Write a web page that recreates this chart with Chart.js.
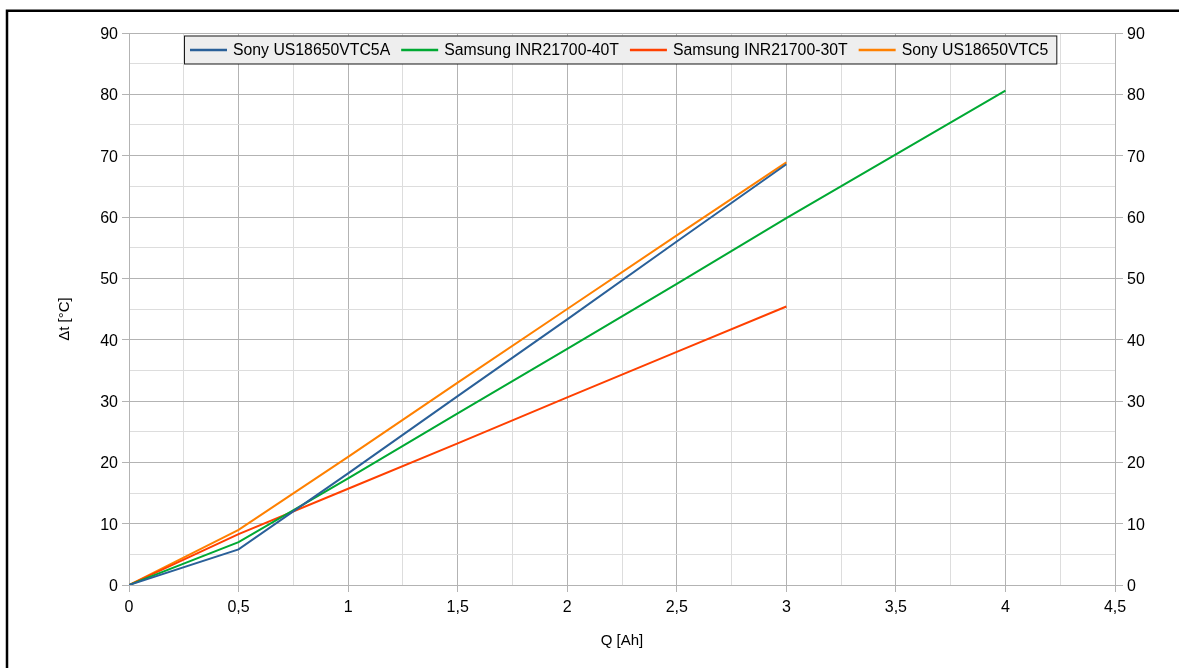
<!DOCTYPE html>
<html>
<head>
<meta charset="utf-8">
<script src="https://cdn.jsdelivr.net/npm/chart.js@4.4.1/dist/chart.umd.min.js"></script>
<style>
  html, body { margin: 0; padding: 0; background: #fff; }
  #wrap { position: relative; width: 1179px; height: 668px; }
</style>
</head>
<body>
<div id="wrap"><canvas id="c" width="1179" height="668"></canvas></div>
<script>
// ---- data ----
const qShort = [0, 0.5, 1, 1.5, 2, 2.5, 3];
const qLong = [0, 0.5, 1, 1.5, 2, 2.5, 3, 3.5, 4];
const sonyVTC5A = [0, 5.8, 18.2, 30.8, 43.3, 56.0, 68.6];
const samsung40T = [0, 7.0, 17.4, 28.0, 38.5, 49.1, 59.8, 70.2, 80.6];
const samsung30T = [0, 8.3, 15.7, 23.1, 30.6, 38.0, 45.4];
const sonyVTC5 = [0, 9.0, 20.9, 33.0, 45.0, 57.0, 68.9];
const seriesNames = ['Sony US18650VTC5A', 'Samsung INR21700-40T', 'Samsung INR21700-30T', 'Sony US18650VTC5'];
const seriesColors = ['#2a6099', '#00a933', '#ff4000', '#ff8000'];
const xTitle = 'Q [Ah]';
const yTitle = 'Δt [°C]';

const FONT = '"Liberation Sans", Arial, sans-serif';
const MAJOR = '#b3b3b3', MINOR = '#dddddd';

function pts(xs, ys) { return xs.map((x, i) => ({ x: x, y: ys[i] })); }

const datasets = [
  { label: seriesNames[0], data: pts(qShort, sonyVTC5A), borderColor: seriesColors[0] },
  { label: seriesNames[1], data: pts(qLong, samsung40T), borderColor: seriesColors[1] },
  { label: seriesNames[2], data: pts(qShort, samsung30T), borderColor: seriesColors[2] },
  { label: seriesNames[3], data: pts(qShort, sonyVTC5), borderColor: seriesColors[3] }
].map(d => Object.assign(d, { borderWidth: 2, pointRadius: 0, tension: 0, fill: false }));

const framePlugin = {
  id: 'frame',
  beforeDraw(chart) {
    const ctx = chart.ctx;
    ctx.save();
    ctx.fillStyle = '#fff';
    ctx.fillRect(0, 0, chart.width, chart.height);
    ctx.strokeStyle = '#000';
    ctx.lineWidth = 2.5;
    ctx.beginPath();
    ctx.moveTo(7, chart.height + 5);
    ctx.lineTo(7, 10.8);
    ctx.lineTo(chart.width + 5, 10.8);
    ctx.stroke();
    ctx.restore();
  }
};

const titlesPlugin = {
  id: 'titles',
  afterDraw(chart) {
    const ctx = chart.ctx;
    const a = chart.chartArea;
    ctx.save();
    ctx.fillStyle = '#000';
    ctx.font = '15px ' + FONT;
    ctx.textAlign = 'center';
    ctx.textBaseline = 'middle';
    ctx.fillText(xTitle, (a.left + a.right) / 2, 641);
    ctx.translate(65, 319);
    ctx.rotate(-Math.PI / 2);
    ctx.fillText(yTitle, 0, 0);
    ctx.restore();
  }
};

const legendPlugin = {
  id: 'boxLegend',
  afterDraw(chart) {
    const ctx = chart.ctx;
    ctx.save();
    ctx.font = '15.8px ' + FONT;
    const left = 184, top = 35.5, h = 28;
    const sample = 37, gapText = 6, gapItem = 11, pad = 6, endPad = 9;
    let w = pad;
    const items = chart.data.datasets.map(d => {
      const tw = ctx.measureText(d.label).width;
      return { label: d.label, color: d.borderColor, tw: tw };
    });
    items.forEach((it, i) => { w += sample + gapText + it.tw + (i < items.length - 1 ? gapItem : endPad); });
    ctx.fillStyle = '#eeeeee';
    ctx.fillRect(left, top, w, h);
    ctx.strokeStyle = '#1a1a1a';
    ctx.lineWidth = 1;
    ctx.strokeRect(left + 0.5, top + 0.5, w - 1, h);
    let x = left + pad;
    const cy = top + h / 2 + 0.5;
    items.forEach(it => {
      ctx.strokeStyle = it.color;
      ctx.lineWidth = 2.5;
      ctx.beginPath();
      ctx.moveTo(x, cy);
      ctx.lineTo(x + sample, cy);
      ctx.stroke();
      x += sample + gapText;
      ctx.fillStyle = '#000';
      ctx.textAlign = 'left';
      ctx.textBaseline = 'middle';
      ctx.fillText(it.label, x, cy + 1);
      x += it.tw + gapItem;
    });
    ctx.restore();
  }
};

const isMajorX = v => Math.abs(v / 0.5 - Math.round(v / 0.5)) < 1e-9;
const isMajorY = v => Math.abs(v / 10 - Math.round(v / 10)) < 1e-9;

new Chart(document.getElementById('c'), {
  type: 'line',
  data: { datasets: datasets },
  options: {
    responsive: false,
    animation: false,
    events: [],
    layout: { padding: { top: 33, left: 0, right: 0, bottom: 0 } },
    plugins: { legend: { display: false }, tooltip: { enabled: false } },
    scales: {
      x: {
        type: 'linear', min: 0, max: 4.5,
        afterFit: s => { s.height = 83; },
        border: { color: MAJOR, width: 1 },
        grid: {
          color: c => isMajorX(c.tick.value) ? MAJOR : MINOR,
          tickColor: c => isMajorX(c.tick.value) ? MAJOR : 'rgba(0,0,0,0)',
          tickLength: 7, lineWidth: 1
        },
        ticks: {
          stepSize: 0.25, autoSkip: false, maxRotation: 0, padding: 6,
          color: '#000', font: { family: FONT, size: 16 },
          callback: v => isMajorX(v) ? String(Math.round(v * 10) / 10).replace('.', ',') : ''
        }
      },
      y: {
        type: 'linear', position: 'left', min: 0, max: 90,
        afterFit: s => { s.width = 129; },
        border: { color: MAJOR, width: 1 },
        grid: {
          color: c => isMajorY(c.tick.value) ? MAJOR : MINOR,
          tickColor: c => isMajorY(c.tick.value) ? MAJOR : 'rgba(0,0,0,0)',
          tickLength: 7, lineWidth: 1
        },
        ticks: {
          stepSize: 5, autoSkip: false, padding: 4, labelOffset: 1.5,
          color: '#000', font: { family: FONT, size: 16 },
          callback: v => isMajorY(v) ? String(v) : ''
        }
      },
      y2: {
        type: 'linear', position: 'right', min: 0, max: 90,
        afterFit: s => { s.width = 64; },
        border: { color: MAJOR, width: 1 },
        grid: {
          drawOnChartArea: false,
          tickColor: c => isMajorY(c.tick.value) ? MAJOR : 'rgba(0,0,0,0)',
          tickLength: 8
        },
        ticks: {
          stepSize: 5, autoSkip: false, padding: 4, labelOffset: 1.5,
          color: '#000', font: { family: FONT, size: 16 },
          callback: v => isMajorY(v) ? String(v) : ''
        }
      }
    }
  },
  plugins: [framePlugin, titlesPlugin, legendPlugin]
});
</script>
</body>
</html>
